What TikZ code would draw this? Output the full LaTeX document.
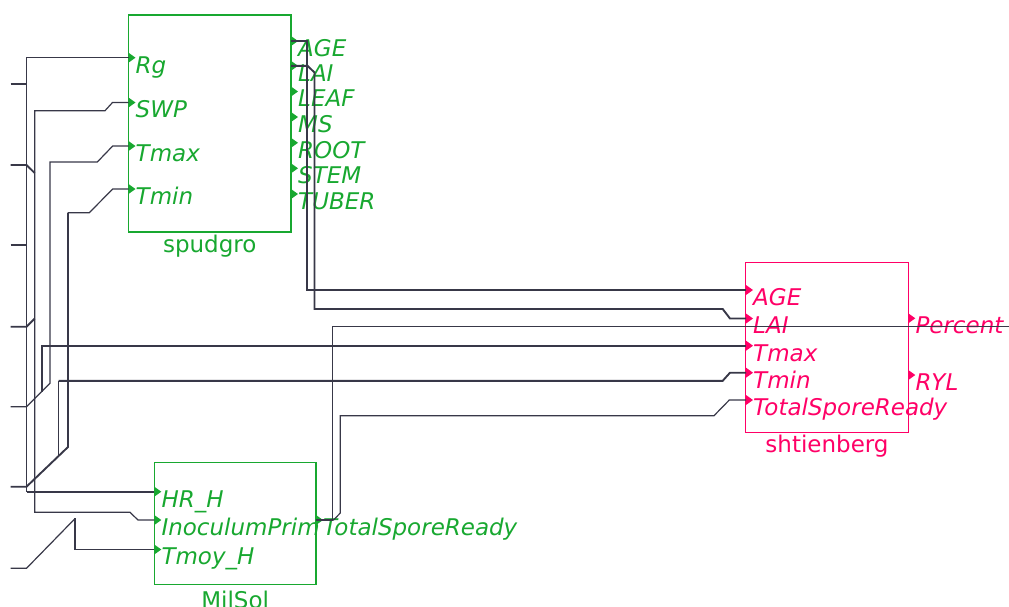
\documentclass[tikz,border=0pt]{standalone}
\usepackage{fontspec}
\setmainfont{DejaVu Sans}
\definecolor{bgreen}{RGB}{24,168,48}
\definecolor{bpink}{RGB}{255,0,102}
\definecolor{wire}{RGB}{56,56,72}
\tikzset{
  blk/.style={draw, line width=1.5pt, inner sep=0pt, outer sep=0pt},
  plab/.style={anchor=base west, inner sep=0pt, font=\fontsize{23}{27}\selectfont\itshape},
  blab/.style={anchor=base, inner sep=0pt, font=\fontsize{23}{27}\selectfont},
  wthin/.style={draw=wire, line width=1.2pt},
  wthick/.style={draw=wire, line width=1.9pt},
}
\newcommand\pmark[2]{\fill[#2] (#1) ++(0,-5) -- ++(7,5) -- ++(-7,5) -- cycle;}
\newcommand\plabel[4]{\node[plab,text=#2] (#4) at (#1) [xshift=7pt,yshift=-15.3pt] {#3};}
\begin{document}
\begin{tikzpicture}[x=1pt,y=-1pt]
\useasboundingbox (0,0) rectangle (1009,606);

% ---------- blocks
\node[blk, draw=bgreen, minimum width=162.5pt, minimum height=217pt] (spud) at (209.75,123.5) {};
\node[blab, text=bgreen] (spudname) at (209.75,252.5) {spudgro};
\node[blk, draw=bpink, minimum width=162.6pt, minimum height=169.6pt] (sht) at (827,347.5) {};
\node[blab, text=bpink] (shtname) at (827,452.5) {shtienberg};
\node[blk, draw=bgreen, minimum width=161.7pt, minimum height=121.6pt] (mil) at (235.15,523.5) {};
\node[blab, text=bgreen] (milname) at (235.15,608) {MilSol};

% ---------- ports: spudgro
\coordinate (spRg) at (128.5,57.7);
\coordinate (spSWP) at (128.5,102.5);
\coordinate (spTmax) at (128.5,146);
\coordinate (spTmin) at (128.5,189);
\coordinate (spAGE) at (291,41);
\coordinate (spLAI) at (291,65.8);
\coordinate (spLEAF) at (291,91.5);
\coordinate (spMS) at (291,117);
\coordinate (spROOT) at (291,142.8);
\coordinate (spSTEM) at (291,168.3);
\coordinate (spTUBER) at (291,194);
% ---------- ports: shtienberg
\coordinate (shAGE) at (746,290);
\coordinate (shLAI) at (746,318.5);
\coordinate (shTmax) at (746,345.7);
\coordinate (shTmin) at (746,372.7);
\coordinate (shTSR) at (746,400);
\coordinate (shPct) at (908.3,318.3);
\coordinate (shRYL) at (908.3,375);
% ---------- ports: MilSol
\coordinate (miHR) at (154.3,491.7);
\coordinate (miInoc) at (154.3,520);
\coordinate (miTmoy) at (154.3,549.5);
\coordinate (miTSR) at (316,520);
% ---------- outer stubs
\coordinate (s1) at (10.5,84.3);
\coordinate (s2) at (10.5,165);
\coordinate (s3) at (10.5,244.7);
\coordinate (s4) at (10.5,326.7);
\coordinate (s5) at (10.5,406.7);
\coordinate (s6) at (10.5,486.7);
\coordinate (s7) at (10.5,568.3);
\coordinate (offR) at (1009,326.7);

% ---------- port markers
\foreach \p in {spRg,spSWP,spTmax,spTmin,spAGE,spLAI,spLEAF,spMS,spROOT,spSTEM,spTUBER,miHR,miInoc,miTmoy,miTSR} {\pmark{\p}{bgreen}}
\foreach \p in {shAGE,shLAI,shTmax,shTmin,shTSR,shPct,shRYL} {\pmark{\p}{bpink}}

% ---------- port labels
\plabel{spRg}{bgreen}{Rg}{lspRg}
\plabel{spSWP}{bgreen}{SWP}{lspSWP}
\plabel{spTmax}{bgreen}{Tmax}{lspTmax}
\plabel{spTmin}{bgreen}{Tmin}{lspTmin}
\plabel{spAGE}{bgreen}{AGE}{lspAGE}
\plabel{spLAI}{bgreen}{LAI}{lspLAI}
\plabel{spLEAF}{bgreen}{LEAF}{lspLEAF}
\plabel{spMS}{bgreen}{MS}{lspMS}
\plabel{spROOT}{bgreen}{ROOT}{lspROOT}
\plabel{spSTEM}{bgreen}{STEM}{lspSTEM}
\plabel{spTUBER}{bgreen}{TUBER}{lspTUBER}
\plabel{shAGE}{bpink}{AGE}{lshAGE}
\plabel{shLAI}{bpink}{LAI}{lshLAI}
\plabel{shTmax}{bpink}{Tmax}{lshTmax}
\plabel{shTmin}{bpink}{Tmin}{lshTmin}
\plabel{shTSR}{bpink}{TotalSporeReady}{lshTSR}
\plabel{shPct}{bpink}{Percent}{lshPct}
\plabel{shRYL}{bpink}{RYL}{lshRYL}
\plabel{miHR}{bgreen}{HR\_H}{lmiHR}
\plabel{miInoc}{bgreen}{InoculumPrim}{lmiInoc}
\plabel{miTmoy}{bgreen}{Tmoy\_H}{lmiTmoy}
\plabel{miTSR}{bgreen}{TotalSporeReady}{lmiTSR}

% ---------- wires
% stubs
\draw[wthick] (s1) -- (26.5,84.3);
\draw[wthick] (s3) -- (26.5,244.7);
\draw[wthick] (s2) -- (26.5,165) -- (34.7,173);
\draw[wthick] (s4) -- (26.5,326.7) -- (34.7,318.5);
% Rg / HR_H
\draw[wthin] (spRg) -- (26.5,57.7) -- (26.5,491.7);
\draw[wthick] (26.5,491.7) -- (miHR);
% SWP / InoculumPrim
\draw[wthin] (spSWP) -- (112.5,102.5) -- (105,110.7) -- (34.7,110.7) -- (34.7,512.3) -- (130,512.3) -- (138,520) -- (miInoc);
% Tmax
\draw[wthin] (spTmax) -- (112.7,146) -- (97.3,162) -- (50,162) -- (50,383.3) -- (26.5,406.7) -- (s5);
\draw[wthick] (shTmax) -- (42.3,345.7) -- (42.3,391.5);
% Tmin
\draw[wthin] (spTmin) -- (112.7,189) -- (89.3,212.7) -- (68,212.7);
\draw[wthick] (68,212.7) -- (68,447) -- (26.5,486.7) -- (s6);
\draw[wthick] (shTmin) -- (730,372.7) -- (722.7,380.8) -- (58.5,380.8);
\draw[wthin] (58.5,380.8) -- (58.5,456);
% Tmoy_H
\draw[wthin] (s7) -- (26.5,568.3) -- (75.3,518.3);
\draw[wthick] (75.3,518.3) -- (75.3,549.5) -- (miTmoy);
% AGE, LAI
\draw[wthick] (spAGE) -- (306.7,41) -- (306.7,290) -- (shAGE);
\draw[wthick] (spLAI) -- (307.5,65.8) -- (314.5,72.5) -- (314.5,309) -- (722.7,309) -- (730,318.5) -- (shLAI);
% TotalSporeReady
\draw[wthin] (miTSR) -- (332.5,520) -- (332.5,326.7) -- (offR);
\draw[wthin] (miTSR) -- (333.5,520) -- (340.3,513) -- (340.3,415.7) -- (714,415.7) -- (729.3,400) -- (shTSR);
\end{tikzpicture}
\end{document}
